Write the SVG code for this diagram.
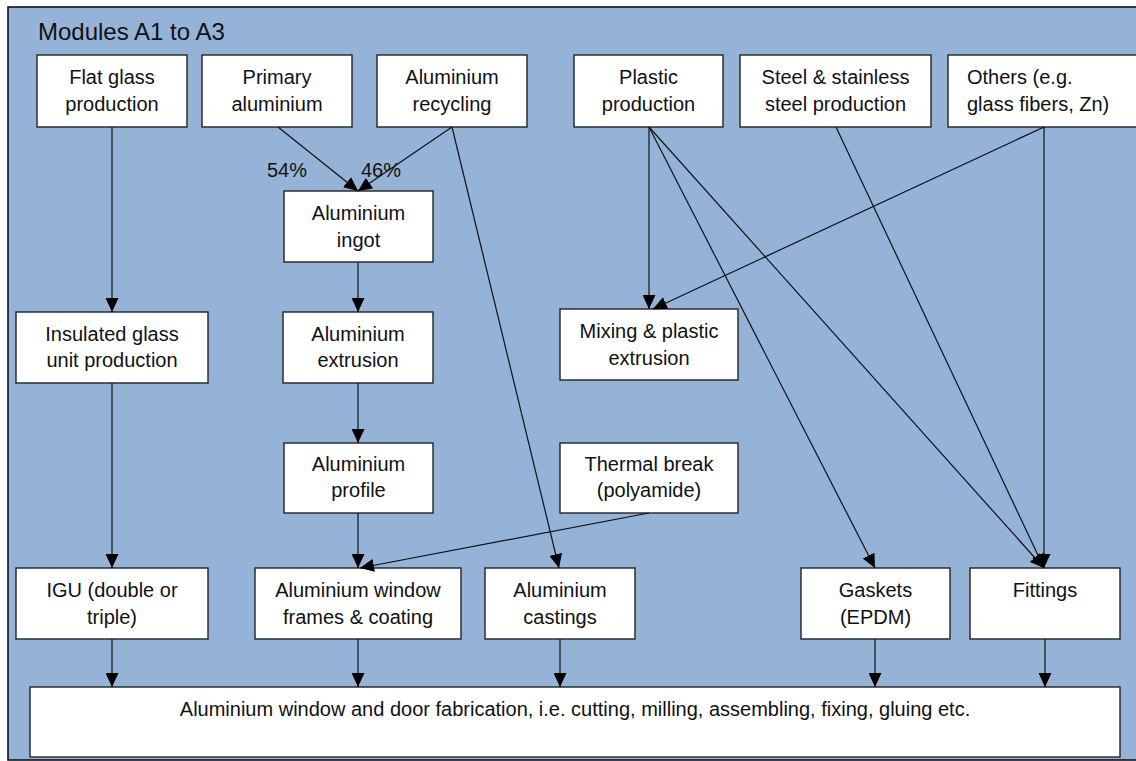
<svg xmlns="http://www.w3.org/2000/svg" width="1136" height="761" viewBox="0 0 1136 761">
<style>
.bg{fill:#95B3D7;stroke:#111;stroke-width:1.6}
.box{fill:#fff;stroke:#222;stroke-width:1.4}
.t{font-family:"Liberation Sans",Arial,sans-serif;font-size:20px;fill:#111;text-anchor:middle}
.tl{text-anchor:start}
.title{font-family:"Liberation Sans",Arial,sans-serif;font-size:24px;fill:#111}
.c{stroke:#111;stroke-width:1.2;fill:none;marker-end:url(#ah)}
</style>
<defs>
<marker id="ah" markerUnits="userSpaceOnUse" markerWidth="14" markerHeight="13" refX="14" refY="6.5" orient="auto">
<path d="M0,0 L14,6.5 L0,13 z" fill="#000"/>
</marker>
</defs>
<rect class="bg" x="8" y="7" width="1150" height="753"/>
<text class="title" x="38" y="40">Modules A1 to A3</text>

<g id="flat-glass"><rect class="box" x="37" y="55" width="150" height="72"/><text class="t" x="112" y="84">Flat glass</text><text class="t" x="112" y="111">production</text></g>
<g id="primary-aluminium"><rect class="box" x="202" y="55" width="150" height="72"/><text class="t" x="277" y="84">Primary</text><text class="t" x="277" y="111">aluminium</text></g>
<g id="aluminium-recycling"><rect class="box" x="377" y="55" width="150" height="72"/><text class="t" x="452" y="84">Aluminium</text><text class="t" x="452" y="111">recycling</text></g>
<g id="plastic-production"><rect class="box" x="574" y="55" width="149" height="72"/><text class="t" x="648.5" y="84">Plastic</text><text class="t" x="648.5" y="111">production</text></g>
<g id="steel-production"><rect class="box" x="740" y="55" width="191" height="72"/><text class="t" x="835.5" y="84">Steel &amp; stainless</text><text class="t" x="835.5" y="111">steel production</text></g>
<g id="others"><rect class="box" x="948" y="55" width="210" height="72"/><text class="t tl" x="967" y="84">Others (e.g.</text><text class="t tl" x="967" y="111">glass fibers, Zn)</text></g>

<g id="aluminium-ingot"><rect class="box" x="284" y="191" width="149" height="71"/><text class="t" x="358.5" y="220">Aluminium</text><text class="t" x="358.5" y="247">ingot</text></g>

<g id="insulated-glass"><rect class="box" x="16" y="312" width="192" height="71"/><text class="t" x="112" y="341">Insulated glass</text><text class="t" x="112" y="367">unit production</text></g>
<g id="aluminium-extrusion"><rect class="box" x="283" y="312" width="150" height="71"/><text class="t" x="358" y="341">Aluminium</text><text class="t" x="358" y="367">extrusion</text></g>
<g id="mixing"><rect class="box" x="560" y="309" width="178" height="71"/><text class="t" x="649" y="338">Mixing &amp; plastic</text><text class="t" x="649" y="365">extrusion</text></g>

<g id="aluminium-profile"><rect class="box" x="284" y="443" width="149" height="70"/><text class="t" x="358.5" y="471">Aluminium</text><text class="t" x="358.5" y="497">profile</text></g>
<g id="thermal-break"><rect class="box" x="560" y="443" width="178" height="70"/><text class="t" x="649" y="471">Thermal break</text><text class="t" x="649" y="497">(polyamide)</text></g>

<g id="igu"><rect class="box" x="16" y="568" width="192" height="71"/><text class="t" x="112" y="597">IGU (double or</text><text class="t" x="112" y="624">triple)</text></g>
<g id="frames"><rect class="box" x="255" y="568" width="206" height="71"/><text class="t" x="358" y="597">Aluminium window</text><text class="t" x="358" y="624">frames &amp; coating</text></g>
<g id="castings"><rect class="box" x="485" y="568" width="150" height="71"/><text class="t" x="560" y="597">Aluminium</text><text class="t" x="560" y="624">castings</text></g>
<g id="gaskets"><rect class="box" x="801" y="568" width="149" height="71"/><text class="t" x="875.5" y="597">Gaskets</text><text class="t" x="875.5" y="624">(EPDM)</text></g>
<g id="fittings"><rect class="box" x="970" y="568" width="150" height="71"/><text class="t" x="1045" y="597">Fittings</text></g>

<g id="fabrication"><rect class="box" x="30" y="687" width="1090" height="70"/><text class="t" x="575" y="716">Aluminium window and door fabrication, i.e. cutting, milling, assembling, fixing, gluing etc.</text></g>

<g id="connectors">
<line class="c" x1="278" y1="127" x2="358" y2="191"/>
<line class="c" x1="452" y1="127" x2="358" y2="191"/>
<line class="c" x1="452" y1="127" x2="559" y2="568"/>
<line class="c" x1="112" y1="127" x2="112" y2="312"/>
<line class="c" x1="112" y1="383" x2="112" y2="568"/>
<line class="c" x1="112" y1="639" x2="112" y2="687"/>
<line class="c" x1="358" y1="262" x2="358" y2="312"/>
<line class="c" x1="358" y1="383" x2="358" y2="443"/>
<line class="c" x1="358" y1="513" x2="358" y2="568"/>
<line class="c" x1="649" y1="513" x2="360" y2="568"/>
<line class="c" x1="358" y1="639" x2="358" y2="687"/>
<line class="c" x1="560" y1="639" x2="560" y2="687"/>
<line class="c" x1="649" y1="127" x2="649" y2="309"/>
<line class="c" x1="1044" y1="127" x2="653" y2="309"/>
<line class="c" x1="649" y1="127" x2="875" y2="568"/>
<line class="c" x1="649" y1="127" x2="1044" y2="568"/>
<line class="c" x1="836" y1="127" x2="1044" y2="568"/>
<line class="c" x1="1044" y1="127" x2="1044" y2="568"/>
<line class="c" x1="875" y1="639" x2="875" y2="687"/>
<line class="c" x1="1045" y1="639" x2="1045" y2="687"/>
<text class="t" x="287" y="177">54%</text>
<text class="t" x="381" y="177">46%</text>
</g>
</svg>
